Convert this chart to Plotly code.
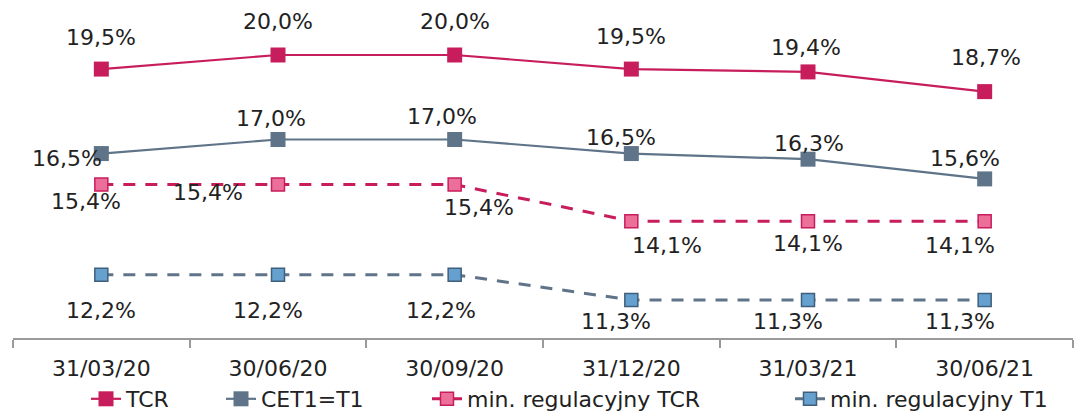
import plotly.graph_objects as go

categories = ["31/03/20", "30/06/20", "30/09/20", "31/12/20", "31/03/21", "30/06/21"]
tcr = [19.5, 20.0, 20.0, 19.5, 19.4, 18.7]
cet1 = [16.5, 17.0, 17.0, 16.5, 16.3, 15.6]
min_tcr = [15.4, 15.4, 15.4, 14.1, 14.1, 14.1]
min_t1 = [12.2, 12.2, 12.2, 11.3, 11.3, 11.3]

names = ["TCR", "CET1=T1", "min. regulacyjny TCR", "min. regulacyjny T1"]

# label offsets in pixels (dx right, dy down) - styling only
off_tcr = [(0, -32), (0, -34), (0, -34), (0, -33), (-2, -24), (1, -34)]
off_cet1 = [(-34, 5), (-7, -21), (-13, -23), (-10, -16), (1, -16), (-20, -20)]
off_mtcr = [(-15, 17), (-70, 8), (24, 23), (36, 24), (0, 22), (-25, 24)]
off_mt1 = [(0, 36), (-10, 36), (-14, 36), (-15, 22), (-20, 22), (-25, 22)]

CRIM = "#C81D5C"
SLATE = "#5F7489"
FONT = "DejaVu Sans"
TXT = "#222222"
FS = 22

W, H = 1079, 413
L, R, T, B = 13, 6, 5, 75

fig = go.Figure()

series = [
    (tcr, names[0], dict(color=CRIM, width=2.2), dict(symbol="square", size=15, color=CRIM, line=dict(width=0)), off_tcr, "legend"),
    (cet1, names[1], dict(color=SLATE, width=2.2), dict(symbol="square", size=15, color=SLATE, line=dict(width=0)), off_cet1, "legend2"),
    (min_tcr, names[2], dict(color=CRIM, width=3, dash="12px,10px"), dict(symbol="square", size=13, color="#EC6F9A", line=dict(width=1.5, color=CRIM)), off_mtcr, "legend3"),
    (min_t1, names[3], dict(color=SLATE, width=3, dash="12px,10px"), dict(symbol="square", size=13, color="#66A0CF", line=dict(width=1.5, color="#3F5F7C")), off_mt1, "legend4"),
]

for vals, nm, ln, mk, offs, lg in series:
    fig.add_trace(go.Scatter(x=categories, y=vals, name=nm, mode="lines+markers",
                             line=ln, marker=mk, legend=lg, hoverinfo="skip"))
    for c, v, (dx, dy) in zip(categories, vals, offs):
        fig.add_annotation(x=c, y=v, text=f"{v:.1f}".replace(".", ",") + "%",
                           showarrow=False, xshift=dx, yshift=-dy,
                           xanchor="center", yanchor="middle",
                           font=dict(family=FONT, size=FS, color=TXT))

pw = W - L - R
ph = H - T - B

def px_x(p):
    return (p - L) / pw

leg_y = (H - B - 399) / ph
leg_common = dict(orientation="h", yanchor="middle", xanchor="left", y=leg_y,
                  font=dict(family=FONT, size=FS, color=TXT), bgcolor="rgba(0,0,0,0)",
                  tracegroupgap=0)
lx = [86, 221, 427, 790]
fig.update_layout(
    legend=dict(x=px_x(lx[0]), **leg_common),
    legend2=dict(x=px_x(lx[1]), **leg_common),
    legend3=dict(x=px_x(lx[2]), **leg_common),
    legend4=dict(x=px_x(lx[3]), **leg_common),
)

ytop = 20 + (55 - T) / 28.16
ybot = 20 - (H - B - 55) / 28.16

fig.update_layout(
    width=W, height=H,
    margin=dict(l=L, r=R, t=T, b=B, autoexpand=False),
    paper_bgcolor="white", plot_bgcolor="white",
    showlegend=True,
    xaxis=dict(type="category", range=[-0.5, 5.5], showgrid=False, zeroline=False,
               showline=True, linecolor="#9A9A9A", linewidth=1.5,
               ticks="outside", tickson="boundaries", ticklen=8, tickcolor="#9A9A9A", tickwidth=1.5,
               ticklabelstandoff=10, automargin=False,
               tickfont=dict(family=FONT, size=FS, color=TXT)),
    yaxis=dict(range=[ybot, ytop], visible=False, showgrid=False, zeroline=False, automargin=False),
)

fig.write_html("out.html", config={"displayModeBar": False},
               post_script="document.body.style.margin='0';document.body.style.overflow='hidden';")
